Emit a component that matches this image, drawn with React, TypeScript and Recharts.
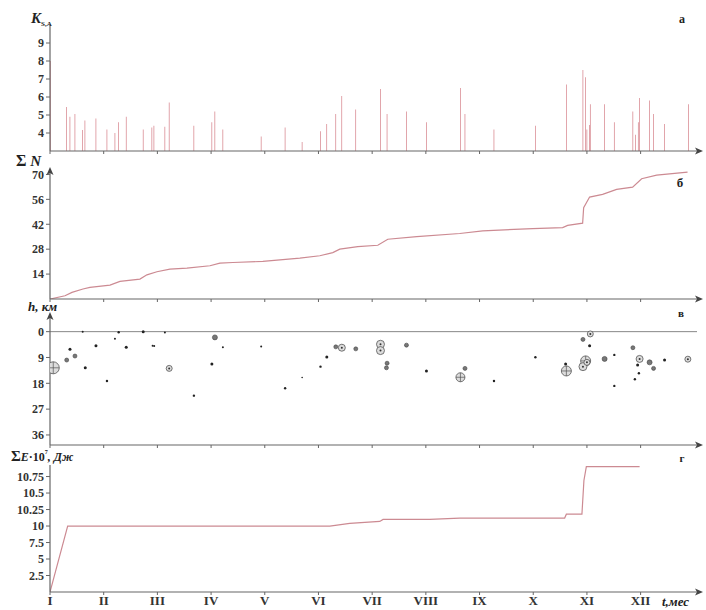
import React from 'react';
import { ComposedChart, Line, Bar, Scatter, XAxis, YAxis, ReferenceLine } from 'recharts';

// ---- data ----
const monthTicks = [1, 2, 3, 4, 5, 6, 7, 8, 9, 10, 11, 12];
const monthLabels = ['I', 'II', 'III', 'IV', 'V', 'VI', 'VII', 'VIII', 'IX', 'X', 'XI', 'XII'];

// panel а: energy class K of each event
const spikeMonth = [1.013, 1.311, 1.372, 1.465, 1.609, 1.651, 1.856, 2.061, 2.21, 2.279, 2.42, 2.736, 2.898, 2.936, 3.14, 3.22, 3.68, 4.015, 4.071, 4.22, 4.933, 5.379, 5.696, 6.038, 6.155, 6.323, 6.435, 6.695, 7.155, 7.278, 7.639, 8.011, 8.644, 8.729, 9.269, 10.04, 10.617, 10.926, 10.976, 11.0, 11.05, 11.063, 11.329, 11.51, 11.856, 11.906, 11.957, 11.981, 12.167, 12.241, 12.446, 12.893];
const spikeK = [8.0, 5.44, 4.9, 5.05, 4.17, 4.7, 4.8, 4.2, 4.0, 4.6, 4.9, 4.2, 4.3, 4.4, 4.35, 5.7, 4.4, 4.6, 5.2, 4.2, 3.8, 4.3, 3.5, 4.1, 4.5, 5.05, 6.05, 5.3, 6.45, 5.05, 5.2, 4.6, 6.5, 5.05, 4.2, 4.4, 6.7, 7.5, 7.1, 4.2, 4.45, 5.6, 5.6, 4.6, 5.2, 3.9, 4.6, 5.95, 5.8, 5.05, 4.5, 5.6];

// panel б: cumulative number of events
const cumMonth = [1.0, 1.279, 1.409, 1.614, 1.744, 2.117, 2.303, 2.675, 2.805, 2.991, 3.233, 3.55, 3.978, 4.164, 4.406, 4.964, 5.653, 6.025, 6.267, 6.397, 6.732, 7.105, 7.291, 7.83, 8.631, 9.059, 9.989, 10.548, 10.641, 10.92, 10.939, 11.05, 11.292, 11.553, 11.851, 12.019, 12.298, 12.874];
const cumN = [0, 1.8, 3.7, 5.6, 6.5, 7.8, 9.9, 11.2, 13.6, 15.3, 16.8, 17.4, 18.7, 20.2, 20.5, 21.1, 23.0, 24.3, 26.1, 28.0, 29.4, 30.2, 33.6, 35.1, 36.8, 38.3, 39.6, 40.1, 41.4, 42.6, 51.3, 57.3, 58.8, 61.6, 62.9, 67.6, 69.6, 71.3];

// panel в: hypocentre depth, km, and relative marker size
const quakeMonth = [1.061, 1.311, 1.372, 1.465, 1.609, 1.657, 1.856, 2.061, 2.21, 2.279, 2.42, 2.736, 2.911, 2.941, 3.14, 3.22, 3.68, 4.015, 4.071, 4.22, 4.933, 5.379, 5.696, 6.038, 6.155, 6.323, 6.435, 6.695, 7.155, 7.155, 7.278, 7.266, 7.639, 8.011, 8.644, 8.729, 9.269, 10.04, 10.603, 10.617, 10.926, 11.063, 11.05, 10.976, 10.926, 11.0, 11.329, 11.51, 11.51, 11.856, 11.981, 11.944, 11.968, 11.893, 12.167, 12.241, 12.446, 12.88];
const quakeDepth = [12.6, 9.9, 6.1, 8.5, 0, 12.6, 4.9, 17.2, 2.5, 0.2, 5.4, 0, 4.9, 5.0, 0.3, 12.8, 22.3, 11.3, 2.0, 5.4, 5.2, 19.7, 16.0, 12.2, 8.8, 5.3, 5.6, 6.0, 4.4, 6.6, 11.0, 12.6, 4.7, 13.7, 15.9, 12.8, 17.2, 8.9, 11.3, 13.7, 2.7, 0.8, 4.9, 10.2, 12.2, 10.7, 9.5, 8.1, 18.9, 5.6, 9.5, 11.6, 14.5, 16.6, 10.7, 12.8, 9.9, 9.6];
const quakeSize = [6, 2, 1.5, 2, 1, 1.5, 1.5, 1.2, 1, 1.2, 1.5, 1.5, 1, 1, 1, 3, 1.2, 1.5, 2.5, 1, 1, 1.2, 0.8, 1.2, 1.5, 2, 3.5, 2, 4, 4, 2, 2, 2, 1.5, 4.5, 2, 1.2, 1.2, 1.5, 5, 2, 3, 1.5, 5, 4, 3, 2.5, 1.2, 1.2, 2, 3.5, 1.5, 1.2, 1.2, 2.5, 2, 1.5, 3];

// panel г: cumulative energy (axis broken above 10)
const energyMonth = [1.0, 1.329, 6.211, 6.583, 7.142, 7.203, 8.072, 8.631, 10.585, 10.617, 10.907, 10.944, 10.989, 11.981];
const energySum = [0, 10.0, 10.0, 10.04, 10.07, 10.1, 10.1, 10.12, 10.12, 10.18, 10.18, 10.69, 10.9, 10.9];
const energyTicks = [2.5, 5, 7.5, 10, 10.25, 10.5, 10.75];

// ---- helpers ----
const toEnergyScale = (v: number) => (v <= 10 ? v / 2.5 : 4 + (v - 10) / 0.25);
const fromEnergyScale = (u: number) => (u <= 4 ? u * 2.5 : 10 + (u - 4) * 0.25);

const spikeData = spikeMonth.map((m, i) => ({ m, k: spikeK[i] }));
const cumData = cumMonth.map((m, i) => ({ m, n: cumN[i] }));
const quakeData = quakeMonth.map((m, i) => ({ m, h: quakeDepth[i], s: quakeSize[i] }));
const energyData = energyMonth.map((m, i) => ({ m, e: toEnergyScale(energySum[i]) }));

const W = 706;
const H = 610;
const FONT = 'Liberation Serif, Times New Roman, serif';
const AXIS = '#666';
const LINE = '#cc8a92';
const X_DOMAIN: [number, number] = [1, 13.05];

const tickStyle = { fill: '#333', fontFamily: FONT, fontWeight: 700, fontSize: 12 };
const noTick = () => <g />;

const QuakeMark = (props: any) => {
  const { cx, cy, payload } = props;
  if (cx == null || cy == null) return <g />;
  const r = payload.s;
  if (r >= 3) {
    return (
      <g>
        <circle cx={cx} cy={cy} r={r} fill="#dcdcdc" stroke="#555" strokeWidth={0.8} />
        {r >= 4.5 ? (
          <g stroke="#555" strokeWidth={0.7}>
            <line x1={cx - r} y1={cy} x2={cx + r} y2={cy} />
            <line x1={cx} y1={cy - r} x2={cx} y2={cy + r} />
          </g>
        ) : (
          <circle cx={cx} cy={cy} r={1} fill="#333" />
        )}
      </g>
    );
  }
  if (r >= 2) return <circle cx={cx} cy={cy} r={r} fill="#777" stroke="#444" strokeWidth={0.6} />;
  return <circle cx={cx} cy={cy} r={r} fill="#222" />;
};

const panelStyle: React.CSSProperties = { position: 'absolute', left: 0, top: 0 };

function xAxisCommon(height: number, showLabels: boolean) {
  return (
    <XAxis
      dataKey="m"
      type="number"
      domain={X_DOMAIN}
      ticks={monthTicks}
      allowDataOverflow
      height={height}
      axisLine={{ stroke: AXIS, strokeWidth: 1.2 }}
      tickLine={{ stroke: AXIS }}
      tickSize={3}
      tickMargin={1}
      tick={showLabels ? { ...tickStyle, fontSize: 13 } : noTick}
      tickFormatter={(v: number) => monthLabels[Math.round(v) - 1] ?? ''}
      interval={0}
    />
  );
}

const yAxisProps = {
  type: 'number' as const,
  allowDataOverflow: true,
  width: 50,
  axisLine: { stroke: AXIS, strokeWidth: 1.2 },
  tickLine: { stroke: AXIS },
  tickSize: 4,
  tick: tickStyle,
  interval: 0 as const,
};

export default function App() {
  return (
    <div style={{ position: 'absolute', left: 0, top: 0, width: W, height: H, background: '#fff', overflow: 'hidden' }}>
      {/* а */}
      <div style={panelStyle}>
        <ComposedChart width={W} height={H} data={spikeData} margin={{ top: 25, right: 9, left: 0, bottom: H - 151 - 4 }}>
          {xAxisCommon(4, false)}
          <YAxis {...yAxisProps} domain={[3, 10]} ticks={[4, 5, 6, 7, 8, 9]} />
          <Bar dataKey="k" fill="#d0707a" barSize={1.4} isAnimationActive={false} />
        </ComposedChart>
      </div>
      {/* б */}
      <div style={panelStyle}>
        <ComposedChart width={W} height={H} data={cumData} margin={{ top: 170, right: 9, left: 0, bottom: H - 299 - 4 }}>
          {xAxisCommon(4, false)}
          <YAxis {...yAxisProps} domain={[0, 72.5]} ticks={[14, 28, 42, 56, 70]} />
          <Line dataKey="n" type="linear" stroke={LINE} strokeWidth={1.2} dot={false} isAnimationActive={false} />
        </ComposedChart>
      </div>
      {/* в */}
      <div style={panelStyle}>
        <ComposedChart width={W} height={H} data={quakeData} margin={{ top: 315, right: 9, left: 0, bottom: H - 445 - 4 }}>
          {xAxisCommon(4, false)}
          <YAxis {...yAxisProps} dataKey="h" domain={[-5.8, 39.5]} reversed ticks={[0, 9, 18, 27, 36]} />
          <ReferenceLine y={0} stroke="#888" strokeWidth={1} />
          <Scatter dataKey="h" shape={QuakeMark} isAnimationActive={false} />
        </ComposedChart>
      </div>
      {/* г */}
      <div style={panelStyle}>
        <ComposedChart width={W} height={H} data={energyData} margin={{ top: 465, right: 9, left: 0, bottom: H - 592 - 16 }}>
          {xAxisCommon(16, true)}
          <YAxis
            {...yAxisProps}
            domain={[0, 7.7]}
            ticks={energyTicks.map(toEnergyScale)}
            tickFormatter={(u: number) => String(Math.round(fromEnergyScale(u) * 100) / 100)}
          />
          <Line dataKey="e" type="linear" stroke={LINE} strokeWidth={1.2} dot={false} isAnimationActive={false} />
        </ComposedChart>
      </div>
      {/* decorations: arrows and labels */}
      <svg width={W} height={H} style={{ position: 'absolute', left: 0, top: 0, pointerEvents: 'none' }}>
        <g fill="#444">
          {[151, 299, 445, 592].map((y) => (
            <path key={y} d={`M703,${y} L695,${y - 3.5} L697,${y} L695,${y + 3.5} Z`} />
          ))}
          {[170, 315].map((y) => (
            <path key={y} d={`M50,${y - 3} L46.5,${y + 5} L50,${y + 3} L53.5,${y + 5} Z`} />
          ))}
        </g>
        <g fontFamily={FONT} fontWeight={700} fill="#222">
          <text x={31} y={23} fontSize={15}>
            <tspan fontStyle="italic">K</tspan>
            <tspan fontSize={7} dy={3}>S,A</tspan>
          </text>
          <text x={682} y={23} fontSize={12} textAnchor="middle">а</text>

          <text x={16} y={166} fontSize={16}>
            Σ<tspan fontStyle="italic" fontSize={15}> N</tspan>
          </text>
          <text x={680} y={187} fontSize={13} textAnchor="middle">б</text>

          <text x={28} y={311} fontSize={13} fontStyle="italic">h, км</text>
          <text x={681} y={317} fontSize={11} textAnchor="middle">в</text>

          <text x={11} y={461} fontSize={12}>
            <tspan fontSize={15}>Σ</tspan>
            <tspan fontStyle="italic">E</tspan>
            <tspan>·10</tspan>
            <tspan fontSize={6} dy={-7}>7</tspan>
            <tspan dy={7} fontStyle="italic">, Дж</tspan>
          </text>
          <text x={682} y={462} fontSize={11} textAnchor="middle">г</text>

          <text x={662} y={606} fontSize={13} fontStyle="italic">t,мес</text>
        </g>
      </svg>
    </div>
  );
}
